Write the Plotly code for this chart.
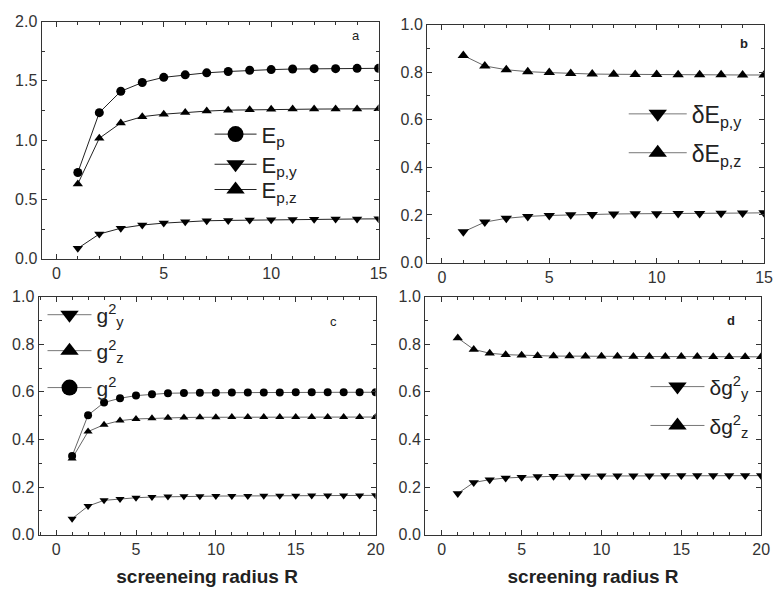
import plotly.graph_objects as go

# ---------------- data ----------------
R15 = list(range(1, 16))
R20 = list(range(1, 21))

Ep  = [0.727, 1.232, 1.412, 1.486, 1.530, 1.551, 1.568, 1.579, 1.590, 1.595, 1.600, 1.603, 1.603, 1.606, 1.606]
Epz = [0.631, 1.016, 1.145, 1.198, 1.219, 1.234, 1.245, 1.253, 1.256, 1.261, 1.262, 1.262, 1.263, 1.263, 1.264]
Epy = [0.087, 0.208, 0.257, 0.284, 0.300, 0.311, 0.320, 0.323, 0.326, 0.328, 0.330, 0.332, 0.334, 0.335, 0.336]

dEpz = [0.870, 0.826, 0.810, 0.802, 0.798, 0.794, 0.792, 0.791, 0.790, 0.790, 0.789, 0.789, 0.789, 0.788, 0.788]
dEpy = [0.129, 0.170, 0.186, 0.194, 0.198, 0.201, 0.202, 0.204, 0.205, 0.205, 0.206, 0.206, 0.207, 0.208, 0.209]

g2  = [0.330, 0.502, 0.555, 0.573, 0.584, 0.590, 0.594, 0.595, 0.596, 0.596, 0.597, 0.597, 0.597, 0.597, 0.598, 0.598, 0.598, 0.598, 0.598, 0.598]
g2z = [0.320, 0.433, 0.462, 0.479, 0.486, 0.489, 0.491, 0.492, 0.493, 0.493, 0.494, 0.494, 0.494, 0.494, 0.494, 0.494, 0.494, 0.494, 0.494, 0.494]
g2y = [0.067, 0.120, 0.144, 0.150, 0.155, 0.158, 0.160, 0.161, 0.161, 0.162, 0.162, 0.162, 0.163, 0.163, 0.163, 0.164, 0.164, 0.164, 0.164, 0.165]

dg2z = [0.826, 0.778, 0.762, 0.756, 0.754, 0.751, 0.750, 0.750, 0.749, 0.749, 0.749, 0.748, 0.748, 0.748, 0.748, 0.748, 0.747, 0.747, 0.747, 0.747]
dg2y = [0.173, 0.219, 0.231, 0.238, 0.241, 0.244, 0.245, 0.246, 0.246, 0.247, 0.247, 0.247, 0.247, 0.248, 0.248, 0.248, 0.248, 0.248, 0.248, 0.248]

x_title_c = "screeneing radius R"
x_title_d = "screening radius R"

FONT = "Liberation Sans, Arial, sans-serif"
W, H = 780, 600
fig = go.Figure()

def data_trace(x, y, sym, xa, ya, size=9, lc="#222"):
    fig.add_trace(go.Scatter(x=x, y=y, mode="lines+markers", showlegend=False,
                             xaxis=xa, yaxis=ya,
                             line=dict(color=lc, width=1),
                             marker=dict(symbol=sym, size=size, color="black")))

legends = {}
def legend_item(name, sym, xa, ya, lc, lx, my, fs, iw):
    """One legend entry in its own legend box (left edge lx px, centre my px)."""
    key = "legend" if not legends else "legend%d" % (len(legends) + 1)
    legends[key] = dict(x=lx / W, y=1 - my / H, xanchor="left", yanchor="middle",
                        bgcolor="rgba(0,0,0,0)", borderwidth=0, itemwidth=iw,
                        font=dict(family=FONT, size=fs, color="#222"))
    fig.add_trace(go.Scatter(x=[None], y=[None], mode="lines+markers", name=name,
                             legend=key, xaxis=xa, yaxis=ya,
                             line=dict(color=lc, width=1),
                             marker=dict(symbol=sym, size=16, color="black")))

# panel a
data_trace(R15, Ep, "circle", "x", "y")
data_trace(R15, Epy, "triangle-down", "x", "y")
data_trace(R15, Epz, "triangle-up", "x", "y")
legend_item("E<sub>p</sub>", "circle", "x", "y", "#222", 212, 130, 22, 42)
legend_item("E<sub>p,y</sub>", "triangle-down", "x", "y", "#222", 212, 161, 22, 42)
legend_item("E<sub>p,z</sub>", "triangle-up", "x", "y", "#222", 212, 187, 22, 42)

# panel b
data_trace(R15, dEpy, "triangle-down", "x2", "y2", 10, "#666")
data_trace(R15, dEpz, "triangle-up", "x2", "y2", 10, "#666")
legend_item("δE<sub>p,y</sub>", "triangle-down", "x2", "y2", "#777", 631, 109, 23, 58)
legend_item("δE<sub>p,z</sub>", "triangle-up", "x2", "y2", "#777", 631, 149, 23, 58)

# panel c
data_trace(R20, g2y, "triangle-down", "x3", "y3", 8, "#666")
data_trace(R20, g2z, "triangle-up", "x3", "y3", 8, "#666")
data_trace(R20, g2, "circle", "x3", "y3", 8, "#666")
legend_item("g<sup>2</sup><sub>y</sub>", "triangle-down", "x3", "y3", "#777", 43, 316, 21, 44)
legend_item("g<sup>2</sup><sub>z</sub>", "triangle-up", "x3", "y3", "#777", 43, 353, 21, 44)
legend_item("g<sup>2</sup>", "circle", "x3", "y3", "#777", 43, 391, 21, 44)

# panel d
data_trace(R20, dg2y, "triangle-down", "x4", "y4", 9, "#666")
data_trace(R20, dg2z, "triangle-up", "x4", "y4", 9, "#666")
legend_item("δg<sup>2</sup><sub>y</sub>", "triangle-down", "x4", "y4", "#777", 653, 390, 21, 54)
legend_item("δg<sup>2</sup><sub>z</sub>", "triangle-up", "x4", "y4", "#777", 653, 430, 21, 54)

def xax(domain, rng, anchor, title=None):
    d = dict(domain=domain, range=rng, anchor=anchor, dtick=5, tick0=0,
             ticks="inside", ticklen=5, tickcolor="#333", showline=True,
             linecolor="#333", linewidth=1, mirror="ticks", showgrid=False,
             zeroline=False, tickfont=dict(family=FONT, size=16, color="#333"),
             minor=dict(dtick=1, ticks="inside", ticklen=3, tickcolor="#333"))
    if title:
        d["title"] = dict(text=title, standoff=12,
                          font=dict(family=FONT, size=19, color="#222", weight="bold"))
    return d

def yax(domain, rng, anchor, dt, mdt):
    return dict(domain=domain, range=rng, anchor=anchor, dtick=dt, tick0=0,
                tickformat=".1f",
                ticks="inside", ticklen=5, tickcolor="#333", showline=True,
                linecolor="#333", linewidth=1, mirror="ticks", showgrid=False,
                zeroline=False, tickfont=dict(family=FONT, size=16, color="#333"),
                minor=dict(dtick=mdt, ticks="inside", ticklen=3, tickcolor="#333"))

def dx(a, b): return [a / W, b / W]
def dy(top, bot): return [1 - bot / H, 1 - top / H]

fig.update_layout(
    width=W, height=H, margin=dict(l=0, r=0, t=0, b=0),
    paper_bgcolor="white", plot_bgcolor="white",
    xaxis=xax(dx(42, 383), [-0.69, 15], "y"),
    yaxis=yax(dy(14, 258), [0, 2], "x", 0.5, 0.25),
    xaxis2=xax(dx(432, 773), [-0.69, 15], "y2"),
    yaxis2=yax(dy(17, 262), [0, 1], "x2", 0.2, 0.1),
    xaxis3=xax(dx(39, 380), [-1.1, 20], "y3", x_title_c),
    yaxis3=yax(dy(297, 542), [0, 1], "x3", 0.2, 0.1),
    xaxis4=xax(dx(430, 770), [-1.05, 20], "y4", x_title_d),
    yaxis4=yax(dy(297, 542), [0, 1], "x4", 0.2, 0.1),
    **legends,
)

for txt, x, y, bold in [("a", 360, 28, False), ("b", 753, 37, True),
                        ("c", 337, 323, False), ("d", 740, 322, True)]:
    fig.add_annotation(text=txt, x=x / W, y=1 - y / H, xref="paper", yref="paper",
                       showarrow=False, xanchor="center", yanchor="middle",
                       font=dict(family=FONT, size=13, color="#222",
                                 weight="bold" if bold else "normal"))

fig.write_html("out.html")
